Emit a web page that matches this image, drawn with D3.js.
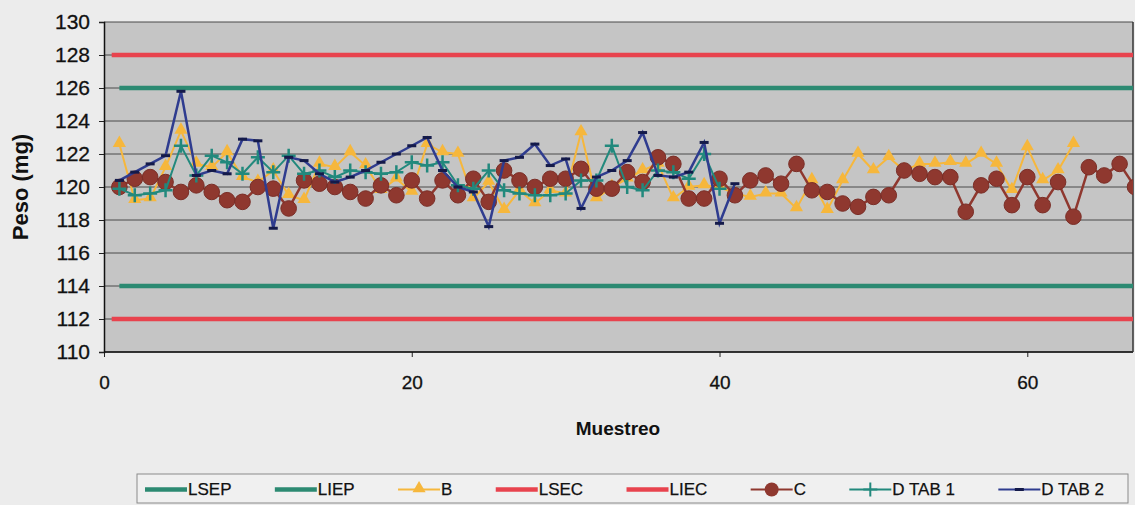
<!DOCTYPE html>
<html>
<head>
<meta charset="utf-8">
<script src="https://cdn.jsdelivr.net/npm/d3@7"></script>
<style>
  html, body { margin: 0; padding: 0; background: #ececec; }
  svg { display: block; font-family: "Liberation Sans", Arial, sans-serif; }
</style>
</head>
<body>
<svg id="chart" width="1135" height="505"></svg>
<script>
// Weight per sample (mg), sample number starts at 1
const seriesB = [122.6,119.2,119.3,121.2,123.4,121.4,121.2,122.1,120.6,120.3,
  121.0,119.5,119.2,121.4,121.2,122.1,121.3,119.8,120.5,119.7,
  122.6,122.1,122.0,119.3,120.3,118.6,119.8,119.0,119.8,119.6,
  123.3,119.3,120.0,120.5,121.0,121.4,119.3,120.0,120.1,120.0,
  119.6,119.4,119.6,119.6,118.7,120.4,118.6,120.4,122.0,121.0,
  121.8,121.0,121.4,121.4,121.5,121.4,122.0,121.4,119.8,122.4,
  120.4,121.0,122.6];
const seriesC = [120.0,120.5,120.6,120.3,119.7,120.1,119.7,119.2,119.1,120.0,
  119.9,118.7,120.4,120.2,120.0,119.7,119.3,120.1,119.5,120.4,
  119.3,120.4,119.5,120.5,119.1,121.0,120.4,120.0,120.5,120.5,
  121.1,119.9,119.9,120.9,120.3,121.8,121.4,119.3,119.3,120.5,
  119.5,120.4,120.7,120.2,121.4,119.8,119.7,119.0,118.8,119.4,
  119.5,121.0,120.8,120.6,120.6,118.5,120.1,120.5,118.9,120.6,
  118.9,120.3,118.2,121.2,120.7,121.4,120.0];
const seriesDTab1 = [119.9,119.5,119.6,119.8,122.5,120.7,121.9,121.5,120.8,121.8,
  120.9,121.9,120.8,121.0,120.6,121.0,120.9,120.8,120.9,121.5,
  121.3,121.5,120.1,119.9,121.0,119.8,119.6,119.5,119.5,119.6,
  120.4,120.4,122.5,120.0,119.8,121.0,120.9,120.5,122.0,119.9];
const seriesDTab2 = [120.4,120.9,121.4,121.9,125.8,120.7,121.0,120.8,122.9,122.8,
  117.5,121.8,121.6,120.8,120.3,120.6,121.0,121.5,122.0,122.5,
  123.0,121.0,120.0,119.7,117.6,121.6,121.8,122.6,121.3,121.7,
  118.7,120.6,121.0,121.6,123.3,120.7,120.6,120.9,122.7,117.8,
  120.2];

// Specification limits (mg): process (P) and compendial (C)
const limitNames = ["LSEP", "LIEP", "LSEC", "LIEC"];
const limitValues = [126, 114, 128, 112];
const limitFrom = [1, 1, 0.5, 0.5];
const limitTo = [67, 67, 67, 67];

const yTicks = [110,112,114,116,118,120,122,124,126,128,130];
const xTicks = [0, 20, 40, 60];
const xDomain = [0, 67];
const yDomain = [110, 130];

const legendNames = ["LSEP","LIEP","B","LSEC","LIEC","C","D TAB 1","D TAB 2"];

const COL = {
  teal: "#2c8a72", red: "#e8434e", yellow: "#f6b73c",
  brown: "#8f382f", dtab1: "#22897d", dtab2: "#2f3c8f", mark2: "#141a4a"
};

const svg = d3.select("#chart");
const plot = { left: 104, right: 1133, top: 22, bottom: 352 };

const x = d3.scaleLinear().domain(xDomain).range([plot.left, 1135]);
const y = d3.scaleLinear().domain(yDomain).range([plot.bottom, plot.top]);

svg.append("defs").append("clipPath").attr("id", "plotClip")
  .append("rect").attr("x", plot.left).attr("y", plot.top - 5)
  .attr("width", plot.right - plot.left).attr("height", plot.bottom - plot.top + 10);

// plot background
svg.append("rect").attr("x", plot.left).attr("y", plot.top)
  .attr("width", plot.right - plot.left).attr("height", plot.bottom - plot.top)
  .attr("fill", "#c5c5c5");

// horizontal gridlines
svg.append("g").selectAll("line").data(yTicks).join("line")
  .attr("x1", plot.left).attr("x2", plot.right)
  .attr("y1", d => y(d)).attr("y2", d => y(d))
  .attr("stroke", "#4a4a4a").attr("stroke-width", 1);

// Y axis
const yAxis = svg.append("g").attr("transform", `translate(${plot.left},0)`)
  .call(d3.axisLeft(y).tickValues(yTicks).tickSize(5).tickPadding(9).tickFormat(d3.format("d")));
yAxis.select(".domain").attr("stroke", "#111").attr("stroke-width", 1.5);
yAxis.selectAll(".tick line").attr("stroke", "#222");
yAxis.selectAll("text").attr("font-size", 21).attr("fill", "#111")
  .attr("stroke", "#111").attr("stroke-width", 0.3);

// X axis
const xAxis = svg.append("g").attr("transform", `translate(0,${plot.bottom})`)
  .call(d3.axisBottom(x).tickValues(xTicks).tickSize(5).tickPadding(19).tickFormat(d3.format("d")));
xAxis.select(".domain").remove();
svg.append("line").attr("x1", plot.left).attr("x2", plot.right)
  .attr("y1", plot.bottom).attr("y2", plot.bottom)
  .attr("stroke", "#111").attr("stroke-width", 1.5);
xAxis.selectAll(".tick line").attr("stroke", "#222");
xAxis.selectAll("text").attr("font-size", 19).attr("fill", "#111")
  .attr("stroke", "#111").attr("stroke-width", 0.3);

// right border of plot
svg.append("line").attr("x1", plot.right).attr("x2", plot.right)
  .attr("y1", plot.top).attr("y2", plot.bottom)
  .attr("stroke", "#333").attr("stroke-width", 1.5);

// axis titles
svg.append("text").attr("transform", `translate(28,${(plot.top + plot.bottom) / 2}) rotate(-90)`)
  .attr("text-anchor", "middle").attr("font-size", 22).attr("font-weight", "bold")
  .attr("fill", "#111").text("Peso (mg)");
svg.append("text").attr("x", 618).attr("y", 435)
  .attr("text-anchor", "middle").attr("font-size", 19).attr("font-weight", "bold")
  .attr("fill", "#111").text("Muestreo");

const g = svg.append("g").attr("clip-path", "url(#plotClip)");
const toPts = arr => arr.map((v, i) => ({ s: i + 1, v }));
const line = d3.line().x(d => x(d.s)).y(d => y(d.v));

// limit lines
const limitColor = ["teal", "teal", "red", "red"].map(k => COL[k]);
const limits = limitNames.map((n, i) => ({
  name: n, color: limitColor[i],
  pts: [{ s: limitFrom[i], v: limitValues[i] }, { s: limitTo[i], v: limitValues[i] }]
}));
function drawLimit(l) {
  g.append("path").attr("d", line(l.pts)).attr("fill", "none")
    .attr("stroke", l.color).attr("stroke-width", 4.5);
}
drawLimit(limits[0]);
drawLimit(limits[1]);

// B series: triangles
const bPts = toPts(seriesB);
g.append("path").attr("d", line(bPts)).attr("fill", "none")
  .attr("stroke", COL.yellow).attr("stroke-width", 2);
const tri = d3.symbol().type(d3.symbolTriangle).size(75);
g.append("g").selectAll("path").data(bPts).join("path")
  .attr("d", tri).attr("transform", d => `translate(${x(d.s)},${y(d.v) - 1})`)
  .attr("fill", COL.yellow);

drawLimit(limits[2]);
drawLimit(limits[3]);

// C series: circles
const cPts = toPts(seriesC);
g.append("path").attr("d", line(cPts)).attr("fill", "none")
  .attr("stroke", COL.brown).attr("stroke-width", 2.5);
g.append("g").selectAll("circle").data(cPts).join("circle")
  .attr("cx", d => x(d.s)).attr("cy", d => y(d.v)).attr("r", 7.8)
  .attr("fill", COL.brown).attr("stroke", "#7a2e27").attr("stroke-width", 1);

// D TAB 1: plus markers
const d1Pts = toPts(seriesDTab1);
g.append("path").attr("d", line(d1Pts)).attr("fill", "none")
  .attr("stroke", COL.dtab1).attr("stroke-width", 2);
g.append("g").selectAll("path").data(d1Pts).join("path")
  .attr("d", d => `M${x(d.s) - 7},${y(d.v)}h14M${x(d.s)},${y(d.v) - 7}v14`)
  .attr("stroke", COL.dtab1).attr("stroke-width", 2.5);

// D TAB 2: dash markers
const d2Pts = toPts(seriesDTab2);
g.append("path").attr("d", line(d2Pts)).attr("fill", "none")
  .attr("stroke", COL.dtab2).attr("stroke-width", 2.5);
g.append("g").selectAll("rect").data(d2Pts).join("rect")
  .attr("x", d => x(d.s) - 4.5).attr("y", d => y(d.v) - 1.5)
  .attr("width", 9).attr("height", 3).attr("fill", COL.mark2);

// legend
const legBox = { x: 137, y: 474, w: 991, h: 29 };
svg.append("rect").attr("x", legBox.x).attr("y", legBox.y)
  .attr("width", legBox.w).attr("height", legBox.h)
  .attr("fill", "#f0f0f0").attr("stroke", "#8a8a8a").attr("stroke-width", 1);

const legColor = [COL.teal, COL.teal, COL.yellow, COL.red, COL.red, COL.brown, COL.dtab1, COL.dtab2];
const symW = 42, symGap = 1;
const leg = svg.append("g");
const items = legendNames.map((name, i) => {
  const it = leg.append("g");
  const t = it.append("text").attr("font-size", 17).attr("fill", "#111")
    .attr("stroke", "#111").attr("stroke-width", 0.25)
    .attr("y", legBox.y + legBox.h / 2 + 6).text(name);
  return { name, i, g: it, t, tw: t.node().getComputedTextLength() };
});
const padL = 8, padR = 24;
const totalFixed = d3.sum(items, d => symW + symGap + d.tw);
const gap = (legBox.w - padL - padR - totalFixed) / (items.length - 1);
let cx = legBox.x + padL;
const ly = legBox.y + legBox.h / 2 + 1;
items.forEach(d => {
  const c = legColor[d.i];
  const thick = d.i < 2 || d.i === 3 || d.i === 4;
  d.g.append("line").attr("x1", cx).attr("x2", cx + symW).attr("y1", ly).attr("y2", ly)
    .attr("stroke", c).attr("stroke-width", thick ? 4.5 : 2.2);
  const mx = cx + symW / 2;
  if (d.name === "B") {
    d.g.append("path").attr("d", tri).attr("transform", `translate(${mx},${ly - 1})`).attr("fill", c);
  } else if (d.name === "C") {
    d.g.append("circle").attr("cx", mx).attr("cy", ly).attr("r", 7).attr("fill", c);
  } else if (d.name === "D TAB 1") {
    d.g.append("path").attr("d", `M${mx - 7},${ly}h14M${mx},${ly - 7}v14`)
      .attr("stroke", c).attr("stroke-width", 2);
  } else if (d.name === "D TAB 2") {
    d.g.append("rect").attr("x", mx - 4.5).attr("y", ly - 1.5).attr("width", 9).attr("height", 3)
      .attr("fill", COL.mark2);
  }
  d.t.attr("x", cx + symW + symGap);
  cx += symW + symGap + d.tw + gap;
});
</script>
</body>
</html>
